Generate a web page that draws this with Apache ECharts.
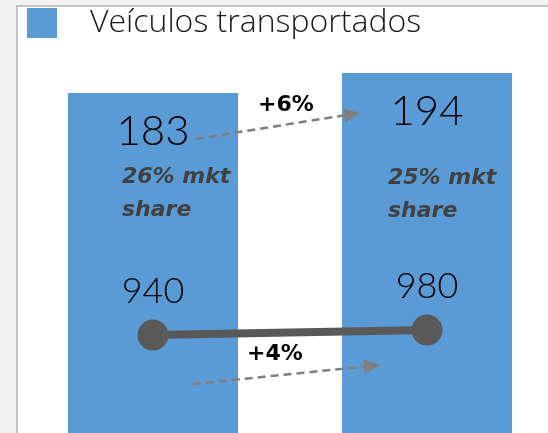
<!DOCTYPE html>
<html>
<head>
<meta charset="utf-8">
<script src="https://cdn.jsdelivr.net/npm/echarts@6/dist/echarts.min.js"></script>
<style>
  html, body { margin: 0; padding: 0; background: #f2f2f2; }
  #main { width: 548px; height: 433px; }
</style>
</head>
<body>
<div id="main"></div>
<script>
// dados
var categorias = ['A', 'B'];
var veiculos = [183, 194];
var linha = [940, 980];
var marketShare = ['26% mkt\nshare', '25% mkt\nshare'];
var variacoes = ['+6%', '+4%'];

var chart = echarts.init(document.getElementById('main'));
var fonte = '"Open Sans", Lato, sans-serif';
var fonteNum = 'Lato, "Open Sans", sans-serif';
var fonteBold = '"DejaVu Sans", sans-serif';

var option = {
    backgroundColor: '#f2f2f2',
    animation: false,
    legend: {
        data: ['Veículos transportados'],
        left: 27,
        top: 7,
        padding: 0,
        icon: 'rect',
        itemWidth: 30,
        itemHeight: 30,
        textStyle: {
            fontFamily: fonte,
            fontWeight: 300,
            fontSize: 32,
            color: '#1a1a1a',
            padding: [8, 0, 0, 28]
        }
    },
    grid: { left: 16, right: -16, top: 73, bottom: -20, outerBoundsMode: 'none' },
    xAxis: {
        type: 'category',
        data: categorias,
        show: false
    },
    yAxis: [
        { type: 'value', min: -15, max: 194, startValue: -15, show: false },
        { type: 'value', min: 0, max: 3030, show: false }
    ],
    graphic: [
        {
            type: 'rect', z: -10, silent: true,
            shape: { x: 17, y: 6, width: 700, height: 700 },
            style: { fill: '#ffffff', stroke: '#c3c3c3', lineWidth: 2 }
        },
        // textos de market share
        {
            type: 'text', z: 10, x: 122, y: 161,
            style: {
                text: marketShare[0], fill: '#404040',
                font: 'italic bold 22px ' + fonteBold, lineHeight: 33
            }
        },
        {
            type: 'text', z: 10, x: 388, y: 162,
            style: {
                text: marketShare[1], fill: '#404040',
                font: 'italic bold 22px ' + fonteBold, lineHeight: 33
            }
        },
        // seta 1
        {
            type: 'line', z: 10,
            shape: { x1: 196, y1: 139, x2: 346, y2: 115 },
            style: { stroke: '#7f7f7f', lineWidth: 2.5, lineDash: [8, 5] }
        },
        {
            type: 'polygon', z: 10,
            shape: { points: [[360, 113], [345.3, 122.4], [343.1, 108.6]] },
            style: { fill: '#7f7f7f' }
        },
        {
            type: 'text', z: 10, x: 286, y: 94,
            style: {
                text: variacoes[0], fill: '#000', align: 'center',
                font: 'bold 22px ' + fonteBold
            }
        },
        // seta 2
        {
            type: 'line', z: 10,
            shape: { x1: 193, y1: 384, x2: 365, y2: 366.5 },
            style: { stroke: '#7f7f7f', lineWidth: 2.5, lineDash: [8, 5] }
        },
        {
            type: 'polygon', z: 10,
            shape: { points: [[380, 365], [364.8, 373.6], [363.4, 359.6]] },
            style: { fill: '#7f7f7f' }
        },
        {
            type: 'text', z: 10, x: 275, y: 343,
            style: {
                text: variacoes[1], fill: '#000', align: 'center',
                font: 'bold 22px ' + fonteBold
            }
        }
    ],
    series: [
        {
            name: 'Veículos transportados',
            type: 'bar',
            data: veiculos,
            barWidth: 170,
            itemStyle: { color: '#5b9bd5' },
            label: {
                show: true,
                position: 'insideTop',
                distance: 17,
                fontFamily: fonteNum,
                fontWeight: 300,
                fontSize: 42,
                color: '#000'
            }
        },
        {
            name: 'linha',
            type: 'line',
            yAxisIndex: 1,
            data: linha,
            symbol: 'circle',
            symbolSize: 31,
            lineStyle: { color: '#595959', width: 8 },
            itemStyle: { color: '#595959' },
            label: {
                show: true,
                position: 'top',
                distance: 10,
                fontFamily: fonteNum,
                fontWeight: 300,
                fontSize: 36,
                color: '#000'
            }
        }
    ]
};
chart.setOption(option);
</script>
</body>
</html>
